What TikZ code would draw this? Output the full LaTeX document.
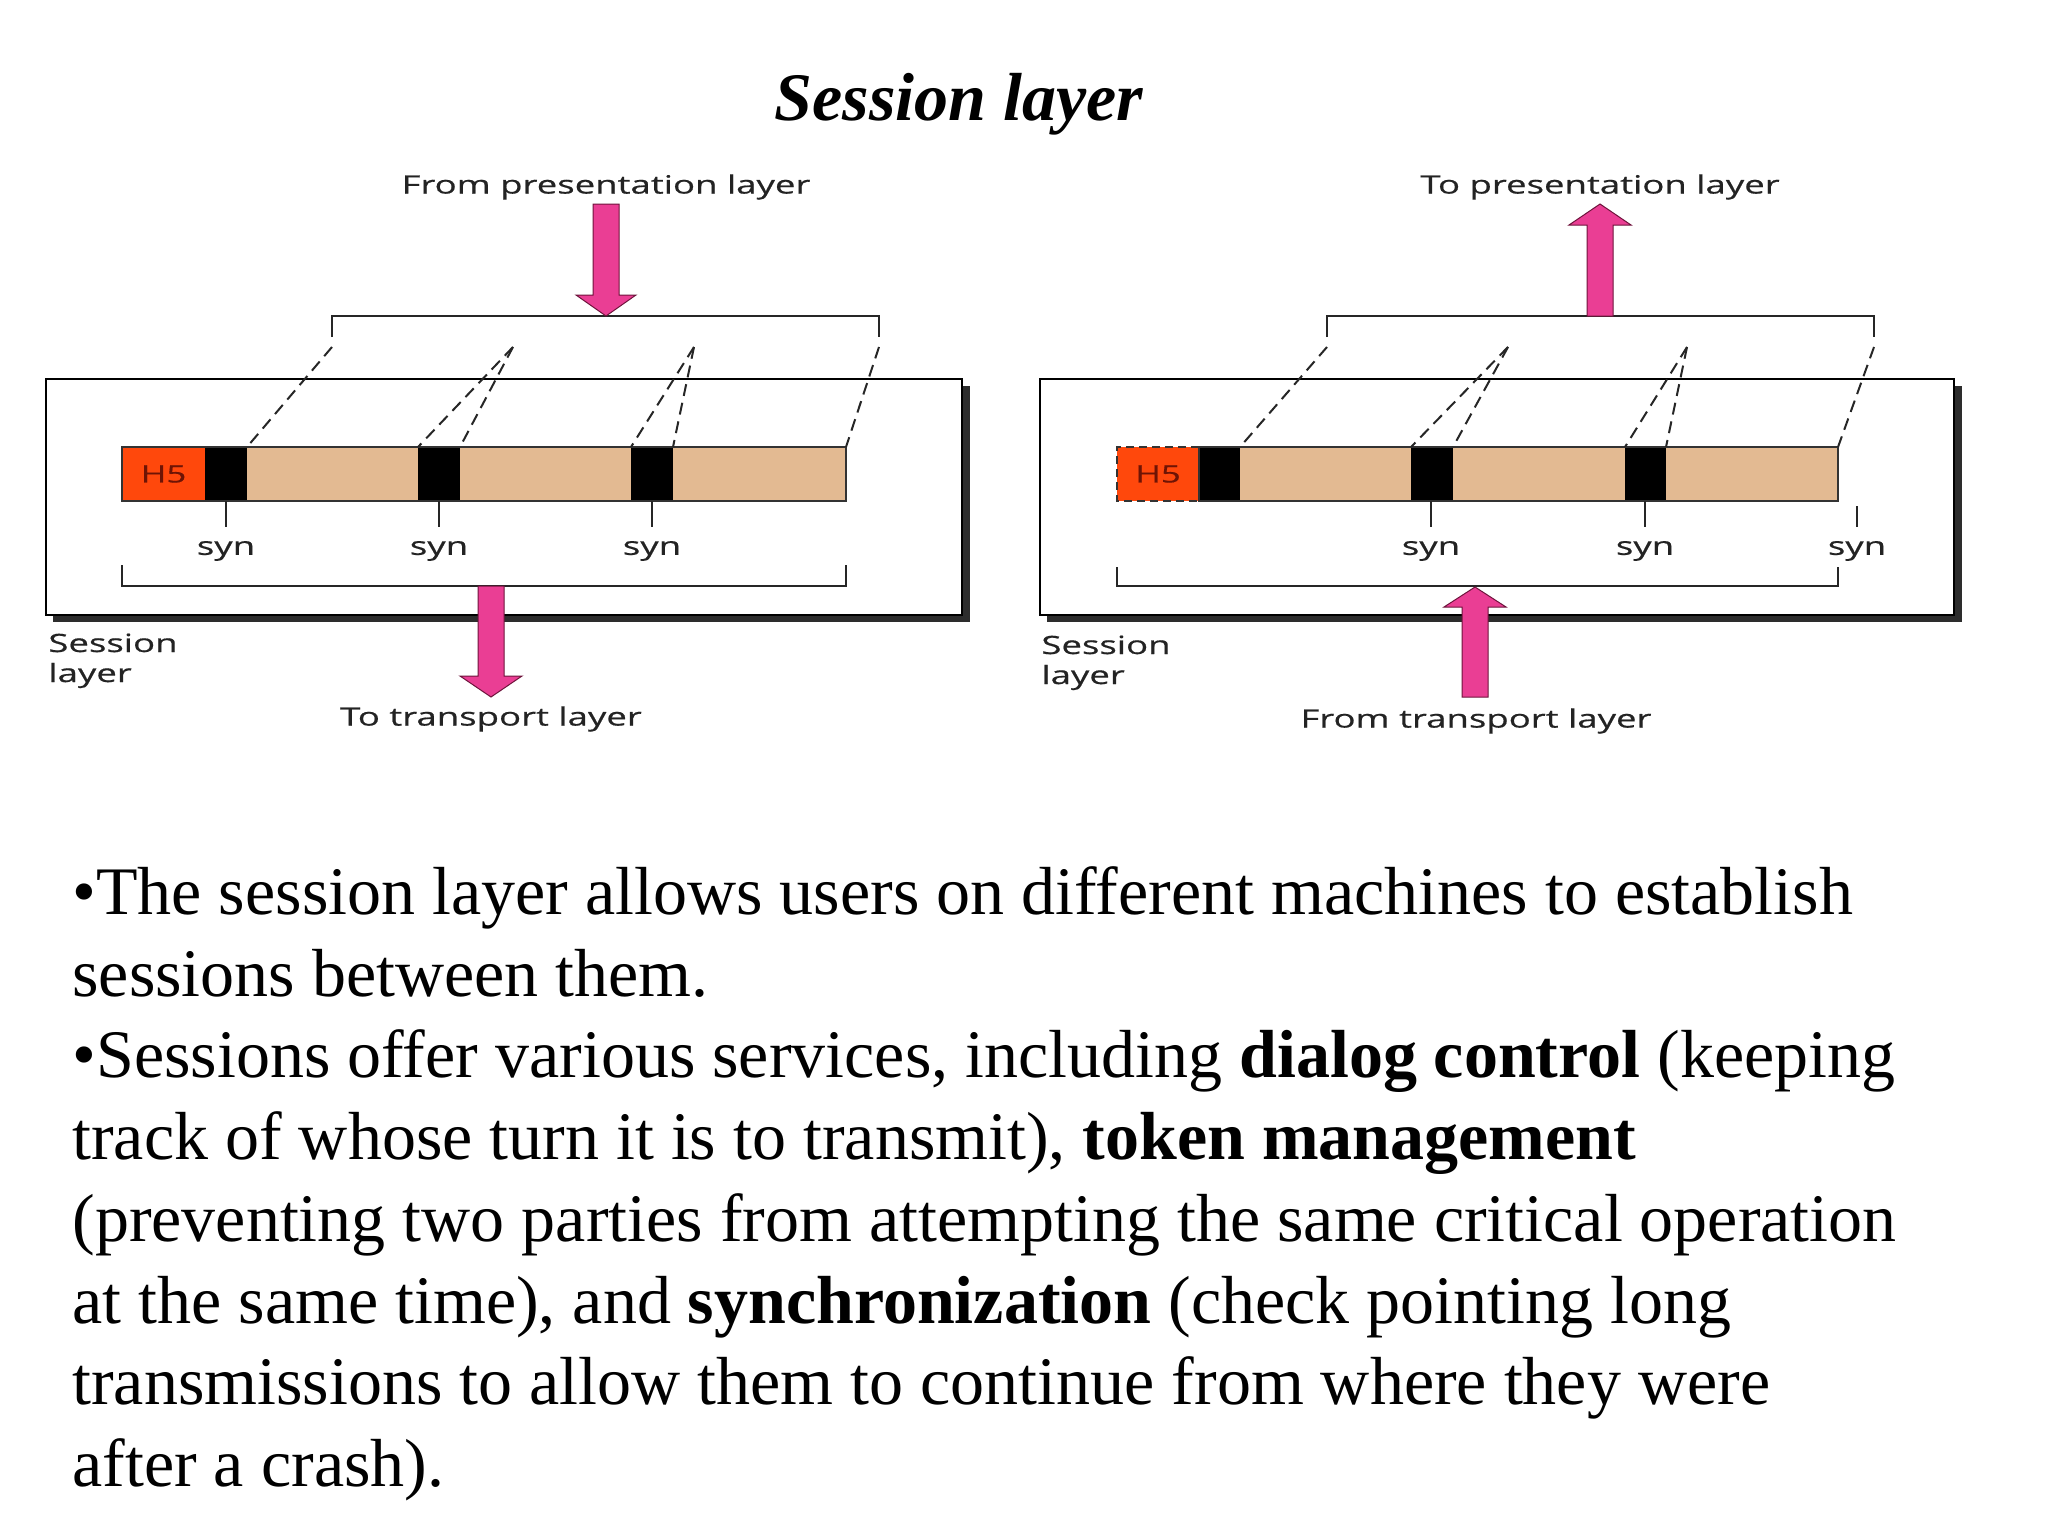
\documentclass[tikz,border=0pt]{standalone}
\usepackage{fontspec}
\setmainfont{Liberation Serif}
\newfontfamily\lblfont[FakeStretch=1.45,FakeBold=0.6]{Open Sans}
\definecolor{pinkarr}{RGB}{234,62,148}
\definecolor{pinkedge}{RGB}{110,20,60}
\definecolor{hfive}{RGB}{255,72,12}
\definecolor{hfivetxt}{RGB}{110,20,5}
\definecolor{tanbar}{RGB}{227,186,146}
\definecolor{shadowc}{RGB}{45,45,45}
\definecolor{lbltxt}{RGB}{35,35,35}
\tikzset{
  lbl/.style={font=\lblfont\fontsize{12.6}{15}\selectfont, text=lbltxt, inner sep=0pt},
  hlbl/.style={font=\lblfont\fontsize{12}{14}\selectfont, text=hfivetxt, inner sep=0pt},
  body/.style={font=\fontsize{34}{41}\selectfont, anchor=base west, inner sep=0pt},
  boxline/.style={draw=black, line width=1pt, fill=white},
  brk/.style={draw=black!85, line width=1pt},
  dsh/.style={draw=black!85, line width=1pt, dash pattern=on 6pt off 3.5pt},
  tick/.style={draw=black!85, line width=1pt},
  barline/.style={draw=black!80, line width=0.7pt},
  blk/.style={fill=black},
  arrowfill/.style={fill=pinkarr, draw=pinkedge, line width=0.5pt, line join=miter},
}
\begin{document}
\begin{tikzpicture}[x=0.5pt,y=-0.5pt]
\useasboundingbox (0,0) rectangle (2048,1536);

% Title
\node[font=\bfseries\itshape\fontsize{34}{41}\selectfont, anchor=base, inner sep=0pt] (title) at (959,120) {Session layer};

% ================= LEFT DIAGRAM =================
\fill[shadowc] (53,386) rectangle (970,622);
\draw[boxline] (46,379) rectangle (962,615);
% bar
\fill[hfive] (122,447) rectangle (205,501);
\fill[tanbar] (247,447) rectangle (846,501);
\fill[blk] (205,447) rectangle (247,501);
\fill[blk] (418,447) rectangle (460,501);
\fill[blk] (631,447) rectangle (673,501);
\draw[barline] (122,447) rectangle (846,501);
\node[hlbl] (lh5) at (163.5,474) {H5};
% ticks and syn labels
\coordinate (lt1) at (226,501); \coordinate (lt2) at (439,501); \coordinate (lt3) at (652,501);
\node[lbl] (ls1) at (226,551) {syn};
\node[lbl] (ls2) at (439,551) {syn};
\node[lbl] (ls3) at (652,551) {syn};
\draw[tick] (lt1) -- (226,527);
\draw[tick] (lt2) -- (439,527);
\draw[tick] (lt3) -- (652,527);
% top bracket
\coordinate (lbA) at (332,337); \coordinate (lbD) at (879,337);
\draw[brk] (lbA) -- (332,316) -- (879,316) -- (lbD);
% dashed
\coordinate (ld1) at (332,347); \coordinate (ld2) at (513,347);
\coordinate (ld3) at (694,347); \coordinate (ld4) at (879,347);
\draw[dsh] (ld1) -- (247,447);
\draw[dsh] (ld2) -- (418,447);
\draw[dsh] (ld2) -- (460,447);
\draw[dsh] (ld3) -- (631,447);
\draw[dsh] (ld3) -- (673,447);
\draw[dsh] (ld4) -- (846,447);
% bottom bracket
\draw[brk] (122,565) -- (122,586) -- (846,586) -- (846,565);
% arrows
\draw[arrowfill] (593,204) -- (619,204) -- (619,295) -- (636,295) -- (606,316) -- (576,295) -- (593,295) -- cycle;
\draw[arrowfill] (478,586) -- (504,586) -- (504,676) -- (522,676) -- (491,697) -- (460,676) -- (478,676) -- cycle;
% labels
\node[lbl] (lfrom) at (606,187) {From presentation layer};
\node[lbl] (lto) at (491,719) {To transport layer};
\node[lbl, anchor=base west] (lsess1) at (48,652) {Session};
\node[lbl, anchor=base west] (lsess2) at (48,682) {layer};

% ================= RIGHT DIAGRAM =================
\fill[shadowc] (1047,386) rectangle (1962,622);
\draw[boxline] (1040,379) rectangle (1954,615);
\fill[hfive] (1117,447) rectangle (1199,501);
\draw[draw=black!80, line width=1pt, dash pattern=on 4pt off 2.5pt] (1199,447) -- (1117,447) -- (1117,501) -- (1199,501);
\fill[tanbar] (1240,447) rectangle (1838,501);
\fill[blk] (1199,447) rectangle (1240,501);
\fill[blk] (1411,447) rectangle (1453,501);
\fill[blk] (1625,447) rectangle (1666,501);
\draw[barline] (1199,447) rectangle (1838,501);
\node[hlbl] (rh5) at (1158,474) {H5};
\coordinate (rt1) at (1431,501); \coordinate (rt2) at (1645,501); \coordinate (rt3) at (1857,506);
\node[lbl] (rs1) at (1431,551) {syn};
\node[lbl] (rs2) at (1645,551) {syn};
\node[lbl] (rs3) at (1857,551) {syn};
\draw[tick] (rt1) -- (1431,527);
\draw[tick] (rt2) -- (1645,527);
\draw[tick] (rt3) -- (1857,527);
\coordinate (rbA) at (1327,337); \coordinate (rbD) at (1874,337);
\draw[brk] (rbA) -- (1327,316) -- (1874,316) -- (rbD);
\coordinate (rd1) at (1327,347); \coordinate (rd2) at (1508,347);
\coordinate (rd3) at (1687,347); \coordinate (rd4) at (1874,347);
\draw[dsh] (rd1) -- (1240,447);
\draw[dsh] (rd2) -- (1411,447);
\draw[dsh] (rd2) -- (1453,447);
\draw[dsh] (rd3) -- (1625,447);
\draw[dsh] (rd3) -- (1666,447);
\draw[dsh] (rd4) -- (1838,447);
\draw[brk] (1117,567) -- (1117,586) -- (1838,586) -- (1838,567);
\draw[arrowfill] (1587,316) -- (1613,316) -- (1613,225) -- (1631,225) -- (1600,204) -- (1569,225) -- (1587,225) -- cycle;
\draw[arrowfill] (1462,697) -- (1488,697) -- (1488,607) -- (1506,607) -- (1475,587) -- (1444,607) -- (1462,607) -- cycle;
\node[lbl] (rto) at (1600,187) {To presentation layer};
\node[lbl] (rfrom) at (1476,721) {From transport layer};
\node[lbl, anchor=base west] (rsess1) at (1041,654) {Session};
\node[lbl, anchor=base west] (rsess2) at (1041,684) {layer};

% ================= BODY TEXT =================
\node[body] (t1) at (72,914) {\textbullet The session layer allows users on different machines to establish};
\node[body] (t2) at (72,996) {sessions between them.};
\node[body] (t3) at (72,1077) {\textbullet Sessions offer various services, including \textbf{dialog control} (keeping};
\node[body] (t4) at (72,1159) {track of whose turn it is to transmit), \textbf{token management}};
\node[body] (t5) at (72,1241) {(preventing two parties from attempting the same critical operation};
\node[body] (t6) at (72,1323) {at the same time), and \textbf{synchronization} (check pointing long};
\node[body] (t7) at (72,1404) {transmissions to allow them to continue from where they were};
\node[body] (t8) at (72,1486) {after a crash).};
\end{tikzpicture}
\end{document}
